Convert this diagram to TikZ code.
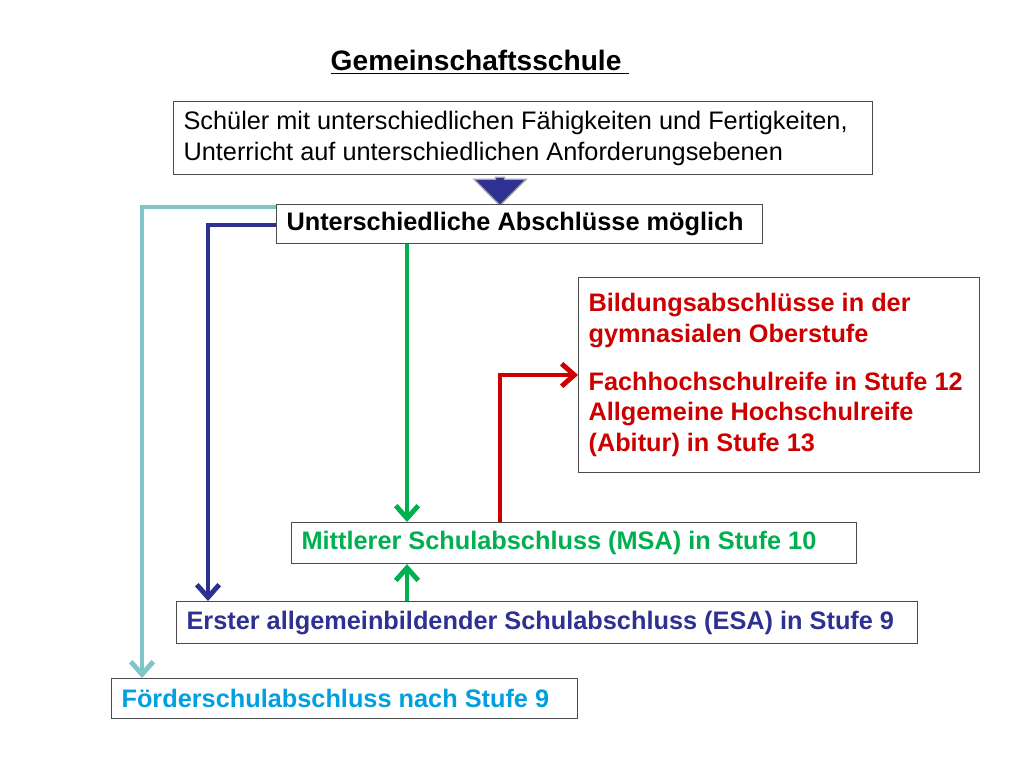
\documentclass[tikz,border=0pt]{standalone}
\usepackage{fontspec}
\setmainfont{Liberation Sans}
\usetikzlibrary{arrows.meta, positioning, shapes.arrows}
\definecolor{darkblue}{RGB}{46,49,146}
\definecolor{lightblue}{RGB}{128,196,204}
\definecolor{fgreen}{RGB}{0,176,80}
\definecolor{fred}{RGB}{204,0,0}
\definecolor{skyblue}{RGB}{0,160,224}

\begin{document}
\begin{tikzpicture}[x=0.025cm, y=-0.025cm,
    box/.style={rectangle, draw=black!70, fill=white, line width=0.8pt, anchor=north west, font=\fontsize{18}{22}\selectfont, inner xsep=0.25cm, inner ysep=4pt, align=flush left},
    label/.style={font=\fontsize{18}{22}\selectfont\bfseries},
    link/.style={line width=3.5pt, -{Straight Barb[length=9pt, width=16pt, line width=3.5pt]}}
]
\useasboundingbox (0,0) rectangle (1024,768);

% Title and starting box
\node[font=\fontsize{20}{24}\selectfont\bfseries] (title) at (480,62) {\underline{Gemeinschaftsschule\ }};
\node[box, minimum height=73*0.025cm, text width=679*0.025cm] (start) at (173,101)
  {Schüler mit unterschiedlichen Fähigkeiten und Fertigkeiten,\\Unterricht auf unterschiedlichen Anforderungsebenen};
\node[single arrow, shape border rotate=270, draw=gray!70, fill=darkblue, line width=1pt, minimum height=28*0.025cm, minimum width=52*0.025cm, single arrow head extend=0.25cm, single arrow head indent=0pt, inner sep=1pt] (bigarrow) at (500,189) {};

% Result boxes
\node[box, label, minimum height=39*0.025cm, text width=466*0.025cm] (options) at (276,204) {Unterschiedliche Abschlüsse möglich};
\node[box, label, text=fred, minimum height=195*0.025cm, text width=381*0.025cm] (gym) at (578,277)
  {Bildungsabschlüsse in der\\gymnasialen Oberstufe\\[12pt]Fachhochschulreife in Stufe 12\\Allgemeine Hochschulreife\\(Abitur) in Stufe 13};
\node[box, label, text=fgreen, minimum height=41*0.025cm, text width=545*0.025cm] (msa) at (291,522) {Mittlerer Schulabschluss (MSA) in Stufe 10};
\node[box, label, text=darkblue, minimum height=42*0.025cm, text width=721*0.025cm] (esa) at (176,601) {Erster allgemeinbildender Schulabschluss (ESA) in Stufe 9};
\node[box, label, text=skyblue, minimum height=40*0.025cm, text width=446*0.025cm] (foerder) at (111,678) {Förderschulabschluss nach Stufe 9};

% Connectors
\coordinate (lbturn) at (142,207);
\coordinate (dbturn) at (208,225);
\coordinate (greenx) at (407,0);
\coordinate (redturn) at (500,375);
\draw[link, lightblue] (options.north west |- lbturn) -- (lbturn) -- (lbturn |- foerder.north);
\draw[link, darkblue] (options.west |- dbturn) -- (dbturn) -- (dbturn |- esa.north);
\draw[link, fgreen] (greenx |- options.south) -- (greenx |- msa.north);
\draw[link, fgreen] (greenx |- esa.north) -- (greenx |- msa.south);
\draw[link, fred] (redturn |- msa.north) -- (redturn) -- (redturn -| gym.west);
\end{tikzpicture}
\end{document}
